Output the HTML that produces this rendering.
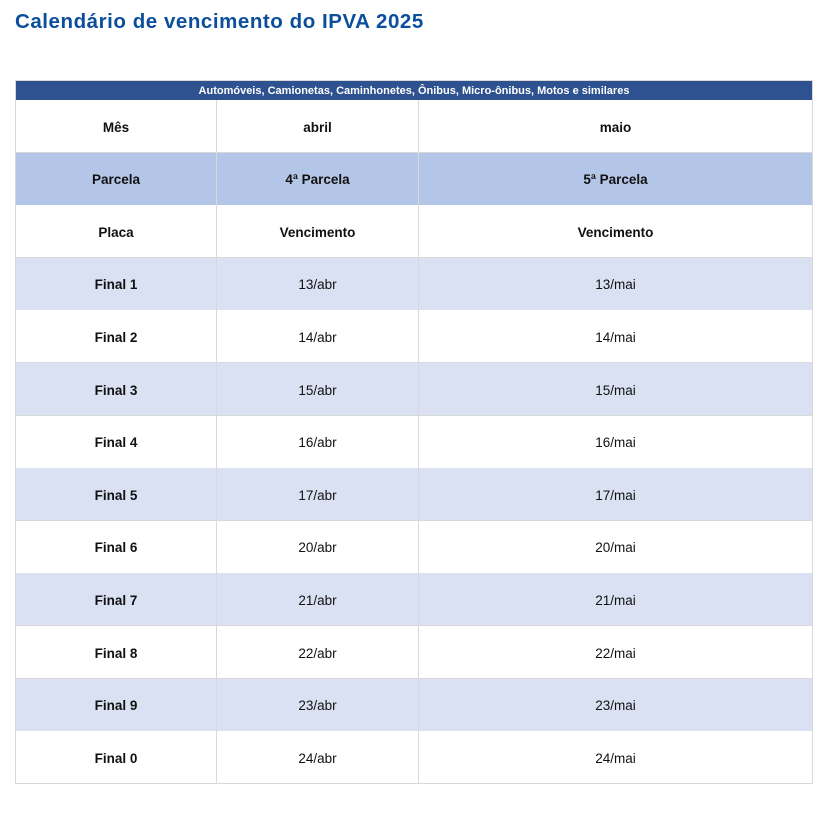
<!DOCTYPE html>
<html><head><meta charset="utf-8"><style>
body{margin:0;width:829px;height:815px;background:#fff;font-family:"Liberation Sans",sans-serif;position:relative;overflow:hidden}
h1{position:absolute;left:15px;top:10px;margin:0;font-size:20.5px;font-weight:bold;color:#0b4f9c;letter-spacing:0.55px}
.hdr{position:absolute;left:15px;top:80px;width:798px;height:20px;background:#2e5190;color:#fff;font-size:11px;font-weight:bold;text-align:center;line-height:20px;box-sizing:border-box;border:1px solid #d9d9d9;border-bottom:none}
.row{position:absolute;left:15px;width:798px;height:53px;box-sizing:border-box;border:1px solid #d9d9d9;border-top:none;display:flex;font-size:13.5px;color:#111}
.row div{display:flex;align-items:center;justify-content:center;height:100%;box-sizing:border-box;padding-top:2px}
.c1{width:201px;border-right:1px solid #d9d9d9;font-weight:bold}
.c2{width:202px;border-right:1px solid #d9d9d9}
.c3{flex:1}
.b{font-weight:bold}
</style></head><body>
<h1>Calendário de vencimento do IPVA 2025</h1>
<div class="hdr">Automóveis, Camionetas, Caminhonetes, Ônibus, Micro-ônibus, Motos e similares</div>
<div id="rows"></div>
<script>
const labels=["Mês","Parcela","Placa","Final 1","Final 2","Final 3","Final 4","Final 5","Final 6","Final 7","Final 8","Final 9","Final 0"];
const col2=["abril","4ª Parcela","Vencimento","13/abr","14/abr","15/abr","16/abr","17/abr","20/abr","21/abr","22/abr","23/abr","24/abr"];
const col3=["maio","5ª Parcela","Vencimento","13/mai","14/mai","15/mai","16/mai","17/mai","20/mai","21/mai","22/mai","23/mai","24/mai"];
const host=document.getElementById('rows');
labels.forEach((l,i)=>{
  const r=document.createElement('div');
  r.className='row';
  
  
  r.style.top=(100+i*52.6)+'px';
  r.style.background=i==1?'#b4c6e7':(i>=3&&i%2==1?'#dae1f2':'#fff');
  const hb=i<3;
  [[l,'c1'],[col2[i],'c2'+(hb?' b':'')],[col3[i],'c3'+(hb?' b':'')]].forEach(([t,c])=>{
    const d=document.createElement('div');
    d.className=c;
    
    
    d.textContent=t;
    r.appendChild(d);
  });
  host.appendChild(r);
});
</script>
</body></html>
